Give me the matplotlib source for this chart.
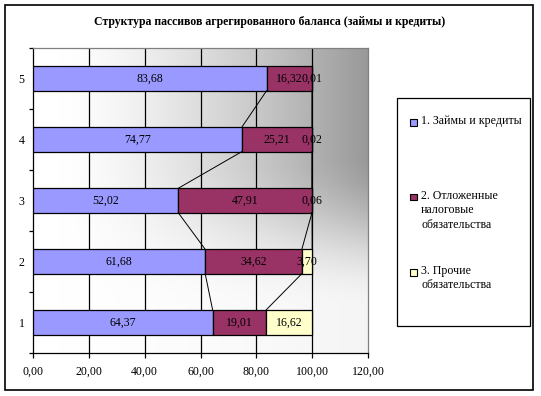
import numpy as np
import matplotlib
matplotlib.use("Agg")
import matplotlib.pyplot as plt
from matplotlib.patches import Rectangle

plt.rcParams['font.family'] = ['Liberation Serif', 'DejaVu Serif']

title = "Структура пассивов агрегированного баланса (займы и кредиты)"
categories = ["1", "2", "3", "4", "5"]
series_names = ["1. Займы и кредиты",
                "2. Отложенные\nналоговые\nобязательства",
                "3. Прочие\nобязательства"]
loans = [64.37, 61.68, 52.02, 74.77, 83.68]
deferred = [19.01, 34.62, 47.91, 25.21, 16.32]
other = [16.62, 3.70, 0.06, 0.02, 0.01]
xticks = [0, 20, 40, 60, 80, 100, 120]

colors = ["#9999FF", "#993366", "#FFFFCC"]
series = [loans, deferred, other]

W, H = 541, 396
fig = plt.figure(figsize=(W / 100, H / 100), dpi=100)
fig.patch.set_facecolor("white")

# outer frame
fig.add_artist(Rectangle((5 / W, 1 - 390 / H), 528 / W, 385 / H,
                         transform=fig.transFigure, fill=False,
                         edgecolor="black", linewidth=1.2))

ax = fig.add_axes([33 / W, 1 - 353 / H, 335 / W, 305 / H])

# gradient background (dark at top-right)
nx, ny = 300, 300
xs = np.linspace(0, 1, nx)
ys = np.linspace(0, 1, ny)  # 0 = top
X, Y = np.meshgrid(xs, ys)
sx = np.clip((X - 0.08) / 0.92, 0, 1) ** 1.4
s = np.clip((Y - 0.35) / 0.5, 0, 1)
s = s * s * (3 - 2 * s)
sy = 0.1 + 0.9 * (1 - s)
dark = np.clip(sx * sy, 0, 1)
L = 1 - 0.4 * dark
img = np.dstack([L, L, L])
ax.imshow(img, extent=[0, 1, 0, 1], transform=ax.transAxes,
          aspect="auto", zorder=0, origin="upper")

ypos = np.arange(1, len(categories) + 1)
h = 0.4
left = np.zeros(len(categories))
cums = []
for vals, c in zip(series, colors):
    v = np.array(vals)
    ax.barh(ypos, v, left=left, height=h, color=c, edgecolor="black",
            linewidth=0.9, zorder=3)
    for yi, li, vi in zip(ypos, left, v):
        ax.text(li + vi / 2, yi, f"{vi:.2f}".replace(".", ","),
                ha="center", va="center", fontsize=8.6, zorder=5,
                color="black")
    left = left + v
    cums.append(left.copy())

# series lines
for cum in cums:
    for i in range(len(categories) - 1):
        ax.plot([cum[i], cum[i + 1]],
                [ypos[i] + h / 2, ypos[i + 1] - h / 2],
                color="black", linewidth=0.7, zorder=4)

ax.set_xlim(0, 120)
ax.set_ylim(0.5, len(categories) + 0.5)

# gridlines
for xv in xticks[1:-1]:
    ax.axvline(xv, color="black", linewidth=0.9, zorder=1)

ax.set_xticks(xticks)
ax.set_xticklabels([f"{x:.2f}".replace(".", ",") for x in xticks],
                   fontsize=8.6)
ax.set_yticks(np.arange(0.5, len(categories) + 1, 1.0))
ax.set_yticklabels([])
ax.set_yticks(ypos, minor=True)
ax.set_yticklabels(categories, minor=True, fontsize=8.6)
ax.tick_params(axis="y", which="minor", length=0, pad=6)
ax.tick_params(axis="y", which="major", length=3, width=0.9, direction="out")
ax.tick_params(axis="x", length=3.5, width=0.9, direction="out", pad=6)

for sp in ["left", "bottom"]:
    ax.spines[sp].set_color("black")
    ax.spines[sp].set_linewidth(0.9)
for sp in ["top", "right"]:
    ax.spines[sp].set_color("#808080")
    ax.spines[sp].set_linewidth(0.9)

fig.text(270 / W, 1 - 22 / H, title, ha="center", va="center",
         fontsize=8.5, fontweight="bold")

# legend
fig.add_artist(Rectangle((397 / W, 1 - 326 / H), 133 / W, 228 / H,
                         transform=fig.transFigure, fill=True,
                         facecolor="white", edgecolor="black",
                         linewidth=0.9))
entry_y = [122, 197, 272]
for name, c, yy in zip(series_names, colors, entry_y):
    fig.add_artist(Rectangle((410 / W, 1 - (yy + 3.5) / H), 7 / W, 7 / H,
                             transform=fig.transFigure, facecolor=c,
                             edgecolor="black", linewidth=0.8))
    fig.text(421 / W, 1 - (yy - 7) / H, name, ha="left", va="top",
             fontsize=8.6, linespacing=1.25)

fig.savefig("out.png", dpi=100)
